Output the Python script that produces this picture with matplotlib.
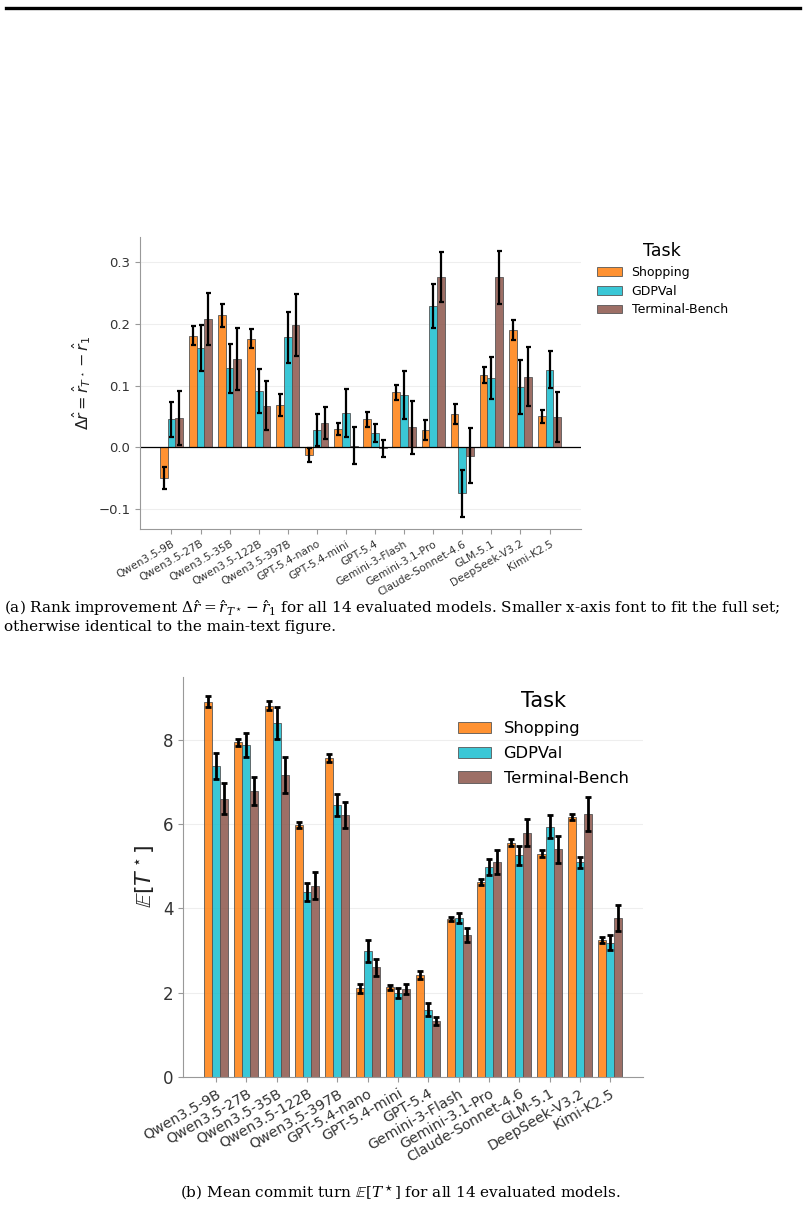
import numpy as np
import matplotlib
matplotlib.use("Agg")
import matplotlib.pyplot as plt
from matplotlib.lines import Line2D

models = ["Qwen3.5-9B", "Qwen3.5-27B", "Qwen3.5-35B", "Qwen3.5-122B", "Qwen3.5-397B",
          "GPT-5.4-nano", "GPT-5.4-mini", "GPT-5.4", "Gemini-3-Flash", "Gemini-3.1-Pro",
          "Claude-Sonnet-4.6", "GLM-5.1", "DeepSeek-V3.2", "Kimi-K2.5"]
tasks = ["Shopping", "GDPVal", "Terminal-Bench"]
colors = ["#ff7f0e", "#17becf", "#8c564b"]

# (a) rank improvement
dr_shopping = [-0.050, 0.181, 0.214, 0.176, 0.069, -0.013, 0.029, 0.045, 0.089, 0.028, 0.054, 0.117, 0.190, 0.050]
dr_gdpval = [0.045, 0.161, 0.128, 0.091, 0.178, 0.028, 0.056, 0.023, 0.085, 0.229, -0.075, 0.112, 0.097, 0.126]
dr_terminal = [0.047, 0.208, 0.143, 0.067, 0.198, 0.039, 0.002, -0.002, 0.032, 0.276, -0.014, 0.276, 0.114, 0.049]
dr_shopping_err = [0.018, 0.015, 0.019, 0.015, 0.018, 0.011, 0.010, 0.012, 0.012, 0.016, 0.016, 0.013, 0.016, 0.011]
dr_gdpval_err = [0.029, 0.037, 0.040, 0.036, 0.041, 0.026, 0.039, 0.015, 0.039, 0.035, 0.038, 0.034, 0.044, 0.030]
dr_terminal_err = [0.044, 0.043, 0.051, 0.040, 0.050, 0.026, 0.030, 0.014, 0.043, 0.041, 0.045, 0.043, 0.048, 0.041]

# (b) mean commit turn
et_shopping = [8.91, 7.94, 8.81, 5.98, 7.57, 2.10, 2.12, 2.42, 3.75, 4.63, 5.56, 5.30, 6.18, 3.25]
et_gdpval = [7.39, 7.88, 8.41, 4.38, 6.46, 2.99, 1.99, 1.59, 3.78, 4.99, 5.26, 5.94, 5.09, 3.18]
et_terminal = [6.60, 6.79, 7.16, 4.54, 6.22, 2.60, 2.08, 1.32, 3.37, 5.10, 5.80, 5.40, 6.24, 3.76]
et_shopping_err = [0.13, 0.09, 0.11, 0.08, 0.09, 0.11, 0.05, 0.09, 0.04, 0.07, 0.09, 0.08, 0.07, 0.07]
et_gdpval_err = [0.31, 0.29, 0.38, 0.21, 0.26, 0.26, 0.12, 0.15, 0.12, 0.19, 0.22, 0.28, 0.14, 0.18]
et_terminal_err = [0.37, 0.33, 0.43, 0.33, 0.31, 0.20, 0.12, 0.10, 0.16, 0.29, 0.33, 0.32, 0.40, 0.31]


def grouped_bars(ax, series, errs, err_lw, capsize):
    x = np.arange(len(models))
    w = 0.8 / len(series)
    for i, (vals, err) in enumerate(zip(series, errs)):
        ax.bar(x + (i - 1) * w, vals, w, color=colors[i], alpha=0.85,
               edgecolor="#555555", linewidth=0.7, label=tasks[i],
               yerr=err, error_kw=dict(ecolor="black", elinewidth=err_lw,
                                       capsize=capsize, capthick=err_lw))
    ax.set_xticks(x)
    ax.set_xlim(-1.08, 14.08)
    for s in ["top", "right"]:
        ax.spines[s].set_visible(False)
    for s in ["left", "bottom"]:
        ax.spines[s].set_color("#999999")
    ax.yaxis.grid(True, color="#eeeeee", lw=0.8)
    ax.set_axisbelow(True)
    ax.tick_params(colors="#999999", labelcolor="#333333")


fig = plt.figure(figsize=(8.06, 12.12), dpi=100)
fig.add_artist(Line2D([6 / 806, 800 / 806], [1 - 7.5 / 1212] * 2, color="black", lw=2.4))

# ---- (a)
ax1 = fig.add_axes([0.1737, 0.5635, 0.5471, 0.2409])
grouped_bars(ax1, [dr_shopping, dr_gdpval, dr_terminal],
             [dr_shopping_err, dr_gdpval_err, dr_terminal_err], 1.6, 1.8)
ax1.axhline(0, color="black", lw=0.9)
ax1.set_ylim(-0.133, 0.341)
ax1.set_yticks([-0.1, 0.0, 0.1, 0.2, 0.3])
ax1.tick_params(axis="y", labelsize=9.5)
ax1.set_xticklabels(models, rotation=30, ha="right", rotation_mode="anchor", fontsize=7.7)
ax1.set_ylabel(r"$\Delta\hat{r} = \hat{r}_{T^\star} - \hat{r}_1$", fontsize=11.5, color="#222222")
ax1.legend(title="Task", frameon=False, loc="upper left",
           bbox_to_anchor=(1.01, 1.02), fontsize=9, title_fontsize=12.5,
           handlelength=2.0, labelspacing=0.45)

# ---- (b)
ax2 = fig.add_axes([0.2274, 0.1116, 0.5704, 0.330])
grouped_bars(ax2, [et_shopping, et_gdpval, et_terminal],
             [et_shopping_err, et_gdpval_err, et_terminal_err], 2.0, 2.2)
ax2.set_ylim(0, 9.5)
ax2.set_yticks([0, 2, 4, 6, 8])
ax2.tick_params(axis="y", labelsize=12)
ax2.set_xticklabels(models, rotation=30, ha="right", rotation_mode="anchor", fontsize=10.2)
ax2.set_ylabel(r"$\mathbb{E}[T^\star]$", fontsize=16, color="#222222")
ax2.legend(title="Task", frameon=False, loc="upper right",
           bbox_to_anchor=(1.0, 1.0), fontsize=11.7, title_fontsize=15,
           handlelength=2.0, labelspacing=0.6)

# ---- captions
cap_kw = dict(family="DejaVu Serif", math_fontfamily="dejavuserif", color="black")
fig.text(4 / 806, 1 - 608 / 1212,
         r"(a) Rank improvement $\Delta\hat{r} = \hat{r}_{T^\star} - \hat{r}_1$ for all 14 evaluated models. "
         "Smaller x-axis font to fit the full set;",
         fontsize=11.0, va="center", ha="left", **cap_kw)
fig.text(4 / 806, 1 - 627 / 1212, "otherwise identical to the main-text figure.",
         fontsize=11.0, va="center", ha="left", **cap_kw)
fig.text(400 / 806, 1 - 1193 / 1212,
         r"(b) Mean commit turn $\mathbb{E}[T^\star]$ for all 14 evaluated models.",
         fontsize=11.0, va="center", ha="center", **cap_kw)

fig.savefig("out.png", dpi=100)
